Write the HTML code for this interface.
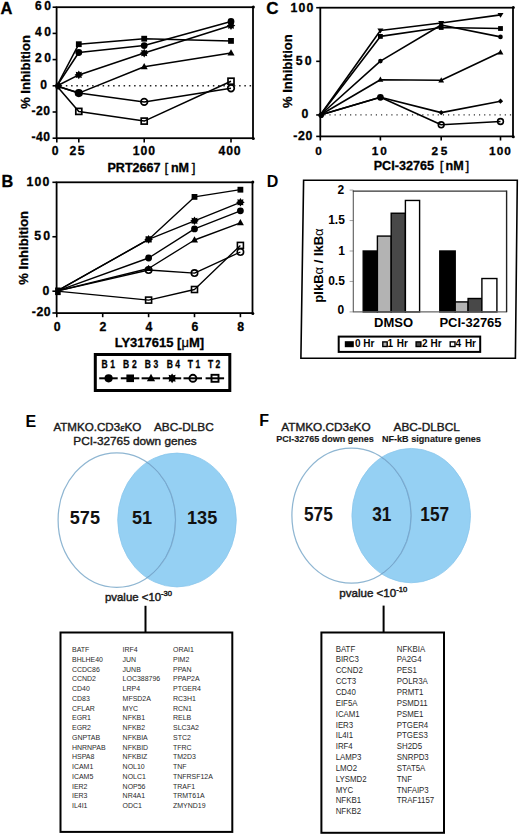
<!DOCTYPE html>
<html><head><meta charset="utf-8"><style>
html,body{margin:0;padding:0;background:#fff;}
svg{display:block;}
text{font-family:"Liberation Sans", sans-serif;}
.h text{stroke:#000;stroke-width:0.3px;}
</style></head><body>
<svg width="520" height="836" viewBox="0 0 520 836">
<rect width="520" height="836" fill="#fff"/>
<g class="h">
<text x="0.6" y="13.9" font-size="16.5" font-weight="bold" text-anchor="start" fill="#000" >A</text>
<rect x="56.6" y="7.2" width="196.4" height="131.0" fill="none" stroke="#000" stroke-width="1.8"/>
<line x1="52.6" y1="7.2" x2="56.6" y2="7.2" stroke="#000" stroke-width="1.6" />
<line x1="52.6" y1="33.4" x2="56.6" y2="33.4" stroke="#000" stroke-width="1.6" />
<line x1="52.6" y1="59.6" x2="56.6" y2="59.6" stroke="#000" stroke-width="1.6" />
<line x1="52.6" y1="85.8" x2="56.6" y2="85.8" stroke="#000" stroke-width="1.6" />
<line x1="52.6" y1="112.0" x2="56.6" y2="112.0" stroke="#000" stroke-width="1.6" />
<line x1="52.6" y1="138.2" x2="56.6" y2="138.2" stroke="#000" stroke-width="1.6" />
<circle cx="253.3" cy="7.0" r="1.6" fill="#000"/>
<line x1="56.8" y1="138.2" x2="56.8" y2="142.4" stroke="#000" stroke-width="1.6" />
<line x1="78.8" y1="138.2" x2="78.8" y2="142.4" stroke="#000" stroke-width="1.6" />
<line x1="144.2" y1="138.2" x2="144.2" y2="142.4" stroke="#000" stroke-width="1.6" />
<line x1="231.0" y1="138.2" x2="231.0" y2="142.4" stroke="#000" stroke-width="1.6" />
<circle cx="253.3" cy="138.5" r="1.5" fill="#000"/>
<line x1="57.6" y1="85.8" x2="253" y2="85.8" stroke="#222" stroke-width="1.5" stroke-dasharray="1.5 3.75" stroke-dashoffset="-3.0"/>
<text x="35.0" y="10.2" font-size="12.1" font-weight="bold" text-anchor="start" fill="#000" letter-spacing="2.6" >60</text>
<text x="35.0" y="36.3" font-size="12.1" font-weight="bold" text-anchor="start" fill="#000" letter-spacing="2.6" >40</text>
<text x="35.0" y="62.3" font-size="12.1" font-weight="bold" text-anchor="start" fill="#000" letter-spacing="2.6" >20</text>
<text x="40.2" y="88.8" font-size="12.1" font-weight="bold" text-anchor="start" fill="#000" >0</text>
<text x="31.6" y="115.0" font-size="12.1" font-weight="bold" text-anchor="start" fill="#000" letter-spacing="0.4" >-20</text>
<text x="31.6" y="141.2" font-size="12.1" font-weight="bold" text-anchor="start" fill="#000" letter-spacing="0.4" >-40</text>
<text x="51.8" y="155.2" font-size="12.2" font-weight="bold" text-anchor="start" fill="#000" >0</text>
<text x="69.4" y="155.2" font-size="12.2" font-weight="bold" text-anchor="start" fill="#000" letter-spacing="1.6" >25</text>
<text x="132.8" y="155.2" font-size="12.2" font-weight="bold" text-anchor="start" fill="#000" letter-spacing="0.9" >100</text>
<text x="218.5" y="155.2" font-size="12.2" font-weight="bold" text-anchor="start" fill="#000" letter-spacing="0.9" >400</text>
<text x="107.4" y="171.8" font-size="12.6" font-weight="bold">PRT2667<tspan x="164.6" font-weight="normal" font-size="13.5">[</tspan><tspan x="170.9">nM</tspan><tspan x="191.8" font-weight="normal" font-size="13.5">]</tspan></text>
<text transform="translate(30.3,72) rotate(-90)" font-size="13" font-weight="bold" text-anchor="middle">% Inhibition</text>
<polyline points="56.8,86 78.8,52.5 144.2,45.6 231.0,21.4" fill="none" stroke="#000" stroke-width="1.55" stroke-linejoin="round"/>
<polyline points="56.8,86 78.8,44.2 144.2,38.7 231.0,40.9" fill="none" stroke="#000" stroke-width="1.55" stroke-linejoin="round"/>
<polyline points="56.8,86 78.8,93.1 144.2,66.7 231.0,53.1" fill="none" stroke="#000" stroke-width="1.55" stroke-linejoin="round"/>
<polyline points="56.8,86 78.8,74.9 144.2,53.1 231.0,25.6" fill="none" stroke="#000" stroke-width="1.55" stroke-linejoin="round"/>
<polyline points="56.8,86 78.8,93.1 144.2,101.9 231.0,88.3" fill="none" stroke="#000" stroke-width="1.55" stroke-linejoin="round"/>
<polyline points="56.8,86 78.8,111.4 144.2,121.1 231.0,81.2" fill="none" stroke="#000" stroke-width="1.55" stroke-linejoin="round"/>
<circle cx="78.8" cy="52.5" r="3.4" fill="#000"/>
<circle cx="144.2" cy="45.6" r="3.4" fill="#000"/>
<circle cx="231.0" cy="21.4" r="3.4" fill="#000"/>
<rect x="75.89999999999999" y="41.300000000000004" width="5.8" height="5.8" fill="#000"/>
<rect x="141.29999999999998" y="35.800000000000004" width="5.8" height="5.8" fill="#000"/>
<rect x="228.1" y="38.0" width="5.8" height="5.8" fill="#000"/>
<polygon points="78.8,89.32 82.3,95.61999999999999 75.3,95.61999999999999" fill="#000"/>
<polygon points="144.2,62.92 147.7,69.22 140.7,69.22" fill="#000"/>
<polygon points="231.0,49.32 234.5,55.620000000000005 227.5,55.620000000000005" fill="#000"/>
<polygon points="78.80,70.60 79.89,72.28 81.84,71.86 81.42,73.81 83.10,74.90 81.42,75.99 81.84,77.94 79.89,77.52 78.80,79.20 77.71,77.52 75.76,77.94 76.18,75.99 74.50,74.90 76.18,73.81 75.76,71.86 77.71,72.28" fill="#000"/>
<polygon points="144.20,48.80 145.29,50.48 147.24,50.06 146.82,52.01 148.50,53.10 146.82,54.19 147.24,56.14 145.29,55.72 144.20,57.40 143.11,55.72 141.16,56.14 141.58,54.19 139.90,53.10 141.58,52.01 141.16,50.06 143.11,50.48" fill="#000"/>
<polygon points="231.00,21.30 232.09,22.98 234.04,22.56 233.62,24.51 235.30,25.60 233.62,26.69 234.04,28.64 232.09,28.22 231.00,29.90 229.91,28.22 227.96,28.64 228.38,26.69 226.70,25.60 228.38,24.51 227.96,22.56 229.91,22.98" fill="#000"/>
<circle cx="78.8" cy="93.1" r="4.1" fill="#000"/>
<circle cx="144.2" cy="101.9" r="3.3" fill="none" stroke="#000" stroke-width="1.7"/>
<circle cx="231.0" cy="88.3" r="3.3" fill="none" stroke="#000" stroke-width="1.7"/>
<rect x="75.8" y="108.4" width="6.0" height="6.0" fill="none" stroke="#000" stroke-width="1.7"/>
<rect x="141.2" y="118.1" width="6.0" height="6.0" fill="none" stroke="#000" stroke-width="1.7"/>
<rect x="228.0" y="78.2" width="6.0" height="6.0" fill="none" stroke="#000" stroke-width="1.7"/>
<ellipse cx="58.2" cy="85.9" rx="3.0" ry="3.5" fill="#000"/>
<text x="1.4" y="186.9" font-size="16.3" font-weight="bold" text-anchor="start" fill="#000" >B</text>
<rect x="56.6" y="182.3" width="195.9" height="130.8" fill="none" stroke="#000" stroke-width="1.8"/>
<circle cx="252.8" cy="182.10000000000002" r="1.5" fill="#000"/>
<line x1="52.4" y1="182.3" x2="56.6" y2="182.3" stroke="#000" stroke-width="1.6" />
<line x1="52.4" y1="236.75" x2="56.6" y2="236.75" stroke="#000" stroke-width="1.6" />
<line x1="52.4" y1="291.2" x2="56.6" y2="291.2" stroke="#000" stroke-width="1.6" />
<line x1="52.4" y1="312.98" x2="56.6" y2="312.98" stroke="#000" stroke-width="1.6" />
<line x1="56.8" y1="313.1" x2="56.8" y2="317.2" stroke="#000" stroke-width="1.6" />
<line x1="102.7" y1="313.1" x2="102.7" y2="317.2" stroke="#000" stroke-width="1.6" />
<line x1="148.6" y1="313.1" x2="148.6" y2="317.2" stroke="#000" stroke-width="1.6" />
<line x1="194.5" y1="313.1" x2="194.5" y2="317.2" stroke="#000" stroke-width="1.6" />
<line x1="240.4" y1="313.1" x2="240.4" y2="317.2" stroke="#000" stroke-width="1.6" />
<circle cx="252.8" cy="313.40000000000003" r="1.5" fill="#000"/>
<text x="26.6" y="185.5" font-size="12.3" font-weight="bold" text-anchor="start" fill="#000" letter-spacing="1.1" >100</text>
<text x="34.3" y="239.8" font-size="12.3" font-weight="bold" text-anchor="start" fill="#000" letter-spacing="2.2" >50</text>
<text x="42.5" y="294.5" font-size="12.3" font-weight="bold" text-anchor="start" fill="#000" >0</text>
<text x="31.8" y="316.2" font-size="12.3" font-weight="bold" text-anchor="start" fill="#000" letter-spacing="0.5" >-20</text>
<text x="57.099999999999994" y="330.8" font-size="12.3" font-weight="bold" text-anchor="middle" fill="#000" >0</text>
<text x="103.0" y="330.8" font-size="12.3" font-weight="bold" text-anchor="middle" fill="#000" >2</text>
<text x="148.9" y="330.8" font-size="12.3" font-weight="bold" text-anchor="middle" fill="#000" >4</text>
<text x="194.8" y="330.8" font-size="12.3" font-weight="bold" text-anchor="middle" fill="#000" >6</text>
<text x="240.70000000000002" y="330.8" font-size="12.3" font-weight="bold" text-anchor="middle" fill="#000" >8</text>
<text x="159.4" y="347.1" font-size="13.0" font-weight="bold" text-anchor="middle" fill="#000" >LY317615 [<tspan font-weight="normal">μ</tspan>M]</text>
<text transform="translate(27.7,247.8) rotate(-90)" font-size="13" font-weight="bold" text-anchor="middle">% Inhibition</text>
<polyline points="56.8,291.2 148.6,258 194.5,228.9 240.4,210.8" fill="none" stroke="#000" stroke-width="1.35" stroke-linejoin="round"/>
<polyline points="56.8,291.2 148.6,239.4 194.5,196.9 240.4,189.7" fill="none" stroke="#000" stroke-width="1.35" stroke-linejoin="round"/>
<polyline points="56.8,291.2 148.6,268.5 194.5,240 240.4,222.8" fill="none" stroke="#000" stroke-width="1.35" stroke-linejoin="round"/>
<polyline points="56.8,291.2 148.6,239.4 194.5,220.8 240.4,202.3" fill="none" stroke="#000" stroke-width="1.35" stroke-linejoin="round"/>
<polyline points="56.8,291.2 148.6,270 194.5,273.1 240.4,252" fill="none" stroke="#000" stroke-width="1.35" stroke-linejoin="round"/>
<polyline points="56.8,291.2 148.6,300.1 194.5,289.5 240.4,245.4" fill="none" stroke="#000" stroke-width="1.35" stroke-linejoin="round"/>
<circle cx="148.6" cy="258" r="3.4" fill="#000"/>
<circle cx="194.5" cy="228.9" r="3.4" fill="#000"/>
<circle cx="240.4" cy="210.8" r="3.4" fill="#000"/>
<rect x="145.7" y="236.5" width="5.8" height="5.8" fill="#000"/>
<rect x="191.6" y="194.0" width="5.8" height="5.8" fill="#000"/>
<rect x="237.5" y="186.79999999999998" width="5.8" height="5.8" fill="#000"/>
<polygon points="148.6,264.72 152.1,271.02 145.1,271.02" fill="#000"/>
<polygon points="194.5,236.22 198.0,242.52 191.0,242.52" fill="#000"/>
<polygon points="240.4,219.02 243.9,225.32000000000002 236.9,225.32000000000002" fill="#000"/>
<polygon points="148.60,235.10 149.69,236.78 151.64,236.36 151.22,238.31 152.90,239.40 151.22,240.49 151.64,242.44 149.69,242.02 148.60,243.70 147.51,242.02 145.56,242.44 145.98,240.49 144.30,239.40 145.98,238.31 145.56,236.36 147.51,236.78" fill="#000"/>
<polygon points="194.50,216.50 195.59,218.18 197.54,217.76 197.12,219.71 198.80,220.80 197.12,221.89 197.54,223.84 195.59,223.42 194.50,225.10 193.41,223.42 191.46,223.84 191.88,221.89 190.20,220.80 191.88,219.71 191.46,217.76 193.41,218.18" fill="#000"/>
<polygon points="240.40,198.00 241.49,199.68 243.44,199.26 243.02,201.21 244.70,202.30 243.02,203.39 243.44,205.34 241.49,204.92 240.40,206.60 239.31,204.92 237.36,205.34 237.78,203.39 236.10,202.30 237.78,201.21 237.36,199.26 239.31,199.68" fill="#000"/>
<circle cx="148.6" cy="270" r="3.2" fill="none" stroke="#000" stroke-width="1.6"/>
<circle cx="194.5" cy="273.1" r="3.2" fill="none" stroke="#000" stroke-width="1.6"/>
<circle cx="240.4" cy="252" r="3.2" fill="none" stroke="#000" stroke-width="1.6"/>
<rect x="145.6" y="297.1" width="6.0" height="6.0" fill="none" stroke="#000" stroke-width="1.6"/>
<rect x="191.5" y="286.5" width="6.0" height="6.0" fill="none" stroke="#000" stroke-width="1.6"/>
<rect x="237.4" y="242.4" width="6.0" height="6.0" fill="none" stroke="#000" stroke-width="1.6"/>
<rect x="55.1" y="287.5" width="5.6" height="7.6" fill="#000"/>
<rect x="95.3" y="354.5" width="134.5" height="36" fill="none" stroke="#000" stroke-width="3"/>
<text x="0" y="0" transform="translate(101.4,367.8) scale(0.82,1)" font-size="10.4" font-weight="bold">B<tspan x="10.85">1</tspan></text>
<line x1="99.2" y1="378.3" x2="117.7" y2="378.3" stroke="#000" stroke-width="2.0" />
<circle cx="108.6" cy="378.3" r="4.1" fill="#000"/>
<text x="0" y="0" transform="translate(123.1,367.8) scale(0.82,1)" font-size="10.4" font-weight="bold">B<tspan x="10.73">2</tspan></text>
<line x1="120.8" y1="378.3" x2="139.3" y2="378.3" stroke="#000" stroke-width="2.0" />
<rect x="126.39999999999999" y="374.5" width="7.6" height="7.6" fill="#000"/>
<text x="0" y="0" transform="translate(144.7,367.8) scale(0.82,1)" font-size="10.4" font-weight="bold">B<tspan x="10.73">3</tspan></text>
<line x1="141.6" y1="378.3" x2="160.1" y2="378.3" stroke="#000" stroke-width="2.0" />
<polygon points="151.0,373.872 155.1,381.252 146.9,381.252" fill="#000"/>
<text x="0" y="0" transform="translate(166.7,367.8) scale(0.82,1)" font-size="10.4" font-weight="bold">B<tspan x="10.37">4</tspan></text>
<line x1="162.7" y1="378.3" x2="181.2" y2="378.3" stroke="#000" stroke-width="2.0" />
<polygon points="172.10,373.40 173.34,375.31 175.56,374.84 175.09,377.06 177.00,378.30 175.09,379.54 175.56,381.76 173.34,381.29 172.10,383.20 170.86,381.29 168.64,381.76 169.11,379.54 167.20,378.30 169.11,377.06 168.64,374.84 170.86,375.31" fill="#000"/>
<text x="0" y="0" transform="translate(187.8,367.8) scale(0.82,1)" font-size="10.4" font-weight="bold">T<tspan x="9.51">1</tspan></text>
<line x1="183.5" y1="378.3" x2="202.0" y2="378.3" stroke="#000" stroke-width="2.0" />
<circle cx="192.9" cy="378.3" r="3.5" fill="none" stroke="#000" stroke-width="1.9"/>
<text x="0" y="0" transform="translate(207.9,367.8) scale(0.82,1)" font-size="10.4" font-weight="bold">T<tspan x="9.39">2</tspan></text>
<line x1="205.6" y1="378.3" x2="224.1" y2="378.3" stroke="#000" stroke-width="2.0" />
<rect x="211.5" y="374.8" width="7.0" height="7.0" fill="none" stroke="#000" stroke-width="1.9"/>
<text x="266.3" y="14.3" font-size="17" font-weight="bold" text-anchor="start" fill="#000" >C</text>
<rect x="320.3" y="7.7" width="192.7" height="128.70000000000002" fill="none" stroke="#000" stroke-width="1.8"/>
<circle cx="513.3" cy="7.5" r="1.5" fill="#000"/>
<line x1="316.2" y1="7.7" x2="320.3" y2="7.7" stroke="#000" stroke-width="1.6" />
<line x1="316.2" y1="61.33" x2="320.3" y2="61.33" stroke="#000" stroke-width="1.6" />
<line x1="316.2" y1="114.95" x2="320.3" y2="114.95" stroke="#000" stroke-width="1.6" />
<line x1="316.2" y1="136.4" x2="320.3" y2="136.4" stroke="#000" stroke-width="1.6" />
<line x1="320.3" y1="136.4" x2="320.3" y2="140.5" stroke="#000" stroke-width="1.6" />
<line x1="380.4" y1="136.4" x2="380.4" y2="140.5" stroke="#000" stroke-width="1.6" />
<line x1="441.2" y1="136.4" x2="441.2" y2="140.5" stroke="#000" stroke-width="1.6" />
<line x1="500.5" y1="136.4" x2="500.5" y2="140.5" stroke="#000" stroke-width="1.6" />
<circle cx="513.3" cy="136.70000000000002" r="1.5" fill="#000"/>
<line x1="321.3" y1="114.95" x2="513" y2="114.95" stroke="#333" stroke-width="1.2" stroke-dasharray="1.2 3.957" stroke-dashoffset="-2.95"/>
<text x="290.6" y="11.7" font-size="12.3" font-weight="bold" text-anchor="start" fill="#000" letter-spacing="1.1" >100</text>
<text x="295.8" y="64.7" font-size="12.3" font-weight="bold" text-anchor="start" fill="#000" letter-spacing="2.0" >50</text>
<text x="301.4" y="118.4" font-size="12.3" font-weight="bold" text-anchor="start" fill="#000" >0</text>
<text x="293.3" y="140.0" font-size="12.3" font-weight="bold" text-anchor="start" fill="#000" letter-spacing="0.6" >-20</text>
<text x="318.6" y="155.0" font-size="11.8" font-weight="bold" text-anchor="middle" fill="#000" >0</text>
<text x="371.8" y="155.0" font-size="11.8" font-weight="bold" text-anchor="start" fill="#000" letter-spacing="1.8" >10</text>
<text x="431.6" y="155.0" font-size="11.8" font-weight="bold" text-anchor="start" fill="#000" letter-spacing="2.6" >25</text>
<text x="500.5" y="155.0" font-size="11.8" font-weight="bold" text-anchor="middle" fill="#000" letter-spacing="1.1" >100</text>
<text x="373.7" y="170.4" font-size="12.6" font-weight="bold">PCI-32765<tspan x="439.7" font-weight="normal" font-size="13.5">[</tspan><tspan x="445.5">nM</tspan><tspan x="465.6" font-weight="normal" font-size="13.5">]</tspan></text>
<text transform="translate(292.4,71.2) rotate(-90)" font-size="13" font-weight="bold" text-anchor="middle">% Inhibition</text>
<polyline points="320.3,115 380.4,30.5 441.2,23 500.5,14.9" fill="none" stroke="#000" stroke-width="1.6" stroke-linejoin="round"/>
<polyline points="320.3,115 380.4,36.4 441.2,27.5 500.5,28.5" fill="none" stroke="#000" stroke-width="1.6" stroke-linejoin="round"/>
<polyline points="320.3,115 380.4,61.1 441.2,25 500.5,36.9" fill="none" stroke="#000" stroke-width="1.6" stroke-linejoin="round"/>
<polyline points="320.3,115 380.4,79.7 441.2,80.3 500.5,52.3" fill="none" stroke="#000" stroke-width="1.6" stroke-linejoin="round"/>
<polyline points="320.3,115 380.4,97.3 441.2,112.6 500.5,101.2" fill="none" stroke="#000" stroke-width="1.6" stroke-linejoin="round"/>
<polyline points="320.3,115 380.4,97.3 441.2,124.8 500.5,121.5" fill="none" stroke="#000" stroke-width="1.6" stroke-linejoin="round"/>
<polygon points="377.4,28.58 383.4,28.58 380.4,33.38" fill="#000"/>
<polygon points="438.2,21.08 444.2,21.08 441.2,25.88" fill="#000"/>
<polygon points="497.5,12.98 503.5,12.98 500.5,17.78" fill="#000"/>
<rect x="378.0" y="34.0" width="4.8" height="4.8" fill="#000"/>
<rect x="438.8" y="25.1" width="4.8" height="4.8" fill="#000"/>
<rect x="498.1" y="26.1" width="4.8" height="4.8" fill="#000"/>
<circle cx="380.4" cy="61.1" r="2.3" fill="#000"/>
<circle cx="441.2" cy="25" r="2.3" fill="#000"/>
<circle cx="500.5" cy="36.9" r="2.3" fill="#000"/>
<polygon points="380.4,76.568 383.29999999999995,81.788 377.5,81.788" fill="#000"/>
<polygon points="441.2,77.16799999999999 444.09999999999997,82.38799999999999 438.3,82.38799999999999" fill="#000"/>
<polygon points="500.5,49.168 503.4,54.388 497.6,54.388" fill="#000"/>
<polygon points="380.4,94.7 383.0,97.3 380.4,99.89999999999999 377.79999999999995,97.3" fill="#000"/>
<polygon points="441.2,110.0 443.8,112.6 441.2,115.19999999999999 438.59999999999997,112.6" fill="#000"/>
<polygon points="500.5,98.60000000000001 503.1,101.2 500.5,103.8 497.9,101.2" fill="#000"/>
<circle cx="441.2" cy="124.8" r="2.9" fill="none" stroke="#000" stroke-width="1.6"/>
<circle cx="500.5" cy="121.5" r="2.9" fill="none" stroke="#000" stroke-width="1.6"/>
<circle cx="380.4" cy="97.3" r="3.4" fill="#000"/>
<circle cx="321.2" cy="115.3" r="2.8" fill="#000"/>
</g>
<text x="266.8" y="187.2" font-size="16" font-weight="bold" text-anchor="start" fill="#000" >D</text>
<polygon points="303.6,180.3 517.3,180.3 515.4,358.2 300.9,358.2" fill="none" stroke="#000" stroke-width="1.6" stroke-linejoin="miter"/>
<line x1="349.6" y1="190.1" x2="353.3" y2="190.1" stroke="#999" stroke-width="0.9" />
<line x1="349.6" y1="220.55" x2="353.3" y2="220.55" stroke="#999" stroke-width="0.9" />
<line x1="349.6" y1="251.0" x2="353.3" y2="251.0" stroke="#999" stroke-width="0.9" />
<line x1="349.6" y1="281.45" x2="353.3" y2="281.45" stroke="#999" stroke-width="0.9" />
<line x1="349.6" y1="311.9" x2="353.3" y2="311.9" stroke="#999" stroke-width="0.9" />
<rect x="363.2" y="250.99999999999997" width="14.199999999999989" height="60.900000000000006" fill="#000" stroke="#000" stroke-width="1.4"/>
<rect x="377.4" y="236.07949999999997" width="13.800000000000011" height="75.82050000000001" fill="#b3b3b3" stroke="#000" stroke-width="1.4"/>
<rect x="391.2" y="213.24199999999996" width="14.199999999999989" height="98.65800000000002" fill="#484848" stroke="#000" stroke-width="1.4"/>
<rect x="405.4" y="200.45299999999997" width="14.200000000000045" height="111.447" fill="#fff" stroke="#000" stroke-width="1.4"/>
<rect x="439.8" y="250.99999999999997" width="15.399999999999977" height="60.900000000000006" fill="#000" stroke="#000" stroke-width="1.4"/>
<rect x="455.2" y="301.9124" width="12.900000000000034" height="9.987599999999986" fill="#b3b3b3" stroke="#000" stroke-width="1.4"/>
<rect x="468.1" y="298.50199999999995" width="13.799999999999955" height="13.398000000000025" fill="#484848" stroke="#000" stroke-width="1.4"/>
<rect x="481.9" y="278.5268" width="15.0" height="33.3732" fill="#fff" stroke="#000" stroke-width="1.4"/>
<line x1="353.3" y1="311.9" x2="506.6" y2="311.9" stroke="#666" stroke-width="1.1" />
<line x1="353.3" y1="190.6" x2="353.3" y2="312.2" stroke="#5a5a5a" stroke-width="1.1" />
<line x1="352.8" y1="191.1" x2="506.6" y2="191.1" stroke="#333" stroke-width="1.4" />
<line x1="506.6" y1="190.5" x2="506.6" y2="312.2" stroke="#222" stroke-width="1.4" />
<text x="337.5" y="194.0" font-size="12" font-weight="bold" text-anchor="start" fill="#000" >2</text>
<text x="328.2" y="224.0" font-size="12" font-weight="bold" text-anchor="start" fill="#000" >1.5</text>
<text x="338.2" y="254.6" font-size="12" font-weight="bold" text-anchor="start" fill="#000" >1</text>
<text x="328.2" y="285.3" font-size="12" font-weight="bold" text-anchor="start" fill="#000" >0.5</text>
<text x="337.5" y="314.4" font-size="12" font-weight="bold" text-anchor="start" fill="#000" >0</text>
<text x="393.6" y="326.8" font-size="13" font-weight="bold" text-anchor="middle" fill="#000" >DMSO</text>
<text x="470.5" y="326.8" font-size="13" font-weight="bold" text-anchor="middle" fill="#000" >PCI-32765</text>
<text transform="translate(323.0,265.5) rotate(-90)" font-size="13" font-weight="bold" text-anchor="middle">pIkB<tspan font-weight="normal">α</tspan> / IkB<tspan font-weight="normal">α</tspan></text>
<rect x="338.7" y="336.6" width="141.5" height="15.3" fill="none" stroke="#000" stroke-width="2"/>
<rect x="345.5" y="341.9" width="7.6" height="4.6" fill="#000" stroke="#000" stroke-width="1.4"/>
<text transform="translate(355.0,347.4) scale(1.0,1)" font-size="10" font-weight="bold">0<tspan x="8.20">Hr</tspan></text>
<rect x="382.8" y="341.9" width="4.4" height="4.6" fill="#b3b3b3" stroke="#000" stroke-width="1.4"/>
<text transform="translate(387.6,347.4) scale(1.0,1)" font-size="10" font-weight="bold">1<tspan x="9.20">Hr</tspan></text>
<rect x="416.1" y="341.9" width="4.8" height="4.6" fill="#484848" stroke="#000" stroke-width="1.4"/>
<text transform="translate(421.9,347.4) scale(1.0,1)" font-size="10" font-weight="bold">2<tspan x="8.70">Hr</tspan></text>
<rect x="450.2" y="341.9" width="4.8" height="4.6" fill="#fff" stroke="#000" stroke-width="1.4"/>
<text transform="translate(455.6,347.4) scale(1.0,1)" font-size="10" font-weight="bold">4<tspan x="9.30">Hr</tspan></text>
<text x="25.6" y="427.0" font-size="16" font-weight="bold" text-anchor="start" fill="#000" >E</text>
<text x="53.4" y="430.8" font-size="11.6" font-weight="normal" text-anchor="start" fill="#1a1a1a" stroke="#1a1a1a" stroke-width="0.4">ATMKO.CD3<tspan font-family="Liberation Serif" font-size="10.3">ε</tspan>KO</text>
<text x="154.0" y="430.8" font-size="11.8" font-weight="normal" text-anchor="start" fill="#1a1a1a" stroke="#1a1a1a" stroke-width="0.4">ABC-DLBC</text>
<text x="73.3" y="445.2" font-size="11.8" font-weight="normal" text-anchor="start" fill="#1a1a1a" stroke="#1a1a1a" stroke-width="0.4">PCI-32765 down genes</text>
<ellipse cx="177.0" cy="520" rx="59.300000000000004" ry="66.95" fill="#95d0f3" stroke="#8ac6ec" stroke-width="0.8"/>
<ellipse cx="116.8" cy="520" rx="58.7" ry="67.25" fill="none" stroke="#8fb6d2" stroke-width="1.25"/>
<clipPath id="cp116"><ellipse cx="177.0" cy="520" rx="59.6" ry="67.25"/></clipPath>
<ellipse cx="116.8" cy="520" rx="58.7" ry="67.25" fill="none" stroke="#72a9d3" stroke-width="1.0" clip-path="url(#cp116)"/>
<text x="69.8" y="524.4" font-size="18.1" font-weight="bold" text-anchor="start" fill="#111" >575</text>
<text x="131.9" y="524.4" font-size="18.1" font-weight="bold" text-anchor="start" fill="#111" >51</text>
<text x="187.0" y="524.4" font-size="18.1" font-weight="bold" text-anchor="start" fill="#111" >135</text>
<text x="105.0" y="601.0" font-size="11.4" font-weight="normal" text-anchor="start" fill="#1a1a1a" stroke="#1a1a1a" stroke-width="0.45">pvalue &lt;10<tspan font-size="7.6" dy="-5.2">-30</tspan></text>
<line x1="145.5" y1="605.8" x2="145.5" y2="632.5" stroke="#000" stroke-width="2" />
<rect x="60.5" y="632.5" width="171.8" height="199.4" fill="none" stroke="#000" stroke-width="2"/>
<g transform="scale(0.895,1)">
<text x="80.45" y="652.2" font-size="7.8" font-weight="normal" text-anchor="start" fill="#2a2a2a" >BATF</text>
<text x="80.45" y="661.95" font-size="7.8" font-weight="normal" text-anchor="start" fill="#2a2a2a" >BHLHE40</text>
<text x="80.45" y="671.7" font-size="7.8" font-weight="normal" text-anchor="start" fill="#2a2a2a" >CCDC86</text>
<text x="80.45" y="681.45" font-size="7.8" font-weight="normal" text-anchor="start" fill="#2a2a2a" >CCND2</text>
<text x="80.45" y="691.2" font-size="7.8" font-weight="normal" text-anchor="start" fill="#2a2a2a" >CD40</text>
<text x="80.45" y="700.95" font-size="7.8" font-weight="normal" text-anchor="start" fill="#2a2a2a" >CD83</text>
<text x="80.45" y="710.7" font-size="7.8" font-weight="normal" text-anchor="start" fill="#2a2a2a" >CFLAR</text>
<text x="80.45" y="720.45" font-size="7.8" font-weight="normal" text-anchor="start" fill="#2a2a2a" >EGR1</text>
<text x="80.45" y="730.2" font-size="7.8" font-weight="normal" text-anchor="start" fill="#2a2a2a" >EGR2</text>
<text x="80.45" y="739.95" font-size="7.8" font-weight="normal" text-anchor="start" fill="#2a2a2a" >GNPTAB</text>
<text x="80.45" y="749.7" font-size="7.8" font-weight="normal" text-anchor="start" fill="#2a2a2a" >HNRNPAB</text>
<text x="80.45" y="759.45" font-size="7.8" font-weight="normal" text-anchor="start" fill="#2a2a2a" >HSPA8</text>
<text x="80.45" y="769.2" font-size="7.8" font-weight="normal" text-anchor="start" fill="#2a2a2a" >ICAM1</text>
<text x="80.45" y="778.95" font-size="7.8" font-weight="normal" text-anchor="start" fill="#2a2a2a" >ICAM5</text>
<text x="80.45" y="788.7" font-size="7.8" font-weight="normal" text-anchor="start" fill="#2a2a2a" >IER2</text>
<text x="80.45" y="798.45" font-size="7.8" font-weight="normal" text-anchor="start" fill="#2a2a2a" >IER3</text>
<text x="80.45" y="808.2" font-size="7.8" font-weight="normal" text-anchor="start" fill="#2a2a2a" >IL4I1</text>
<text x="136.98" y="652.2" font-size="7.8" font-weight="normal" text-anchor="start" fill="#2a2a2a" >IRF4</text>
<text x="136.98" y="661.95" font-size="7.8" font-weight="normal" text-anchor="start" fill="#2a2a2a" >JUN</text>
<text x="136.98" y="671.7" font-size="7.8" font-weight="normal" text-anchor="start" fill="#2a2a2a" >JUNB</text>
<text x="136.98" y="681.45" font-size="7.8" font-weight="normal" text-anchor="start" fill="#2a2a2a" >LOC388796</text>
<text x="136.98" y="691.2" font-size="7.8" font-weight="normal" text-anchor="start" fill="#2a2a2a" >LRP4</text>
<text x="136.98" y="700.95" font-size="7.8" font-weight="normal" text-anchor="start" fill="#2a2a2a" >MFSD2A</text>
<text x="136.98" y="710.7" font-size="7.8" font-weight="normal" text-anchor="start" fill="#2a2a2a" >MYC</text>
<text x="136.98" y="720.45" font-size="7.8" font-weight="normal" text-anchor="start" fill="#2a2a2a" >NFKB1</text>
<text x="136.98" y="730.2" font-size="7.8" font-weight="normal" text-anchor="start" fill="#2a2a2a" >NFKB2</text>
<text x="136.98" y="739.95" font-size="7.8" font-weight="normal" text-anchor="start" fill="#2a2a2a" >NFKBIA</text>
<text x="136.98" y="749.7" font-size="7.8" font-weight="normal" text-anchor="start" fill="#2a2a2a" >NFKBID</text>
<text x="136.98" y="759.45" font-size="7.8" font-weight="normal" text-anchor="start" fill="#2a2a2a" >NFKBIZ</text>
<text x="136.98" y="769.2" font-size="7.8" font-weight="normal" text-anchor="start" fill="#2a2a2a" >NOL10</text>
<text x="136.98" y="778.95" font-size="7.8" font-weight="normal" text-anchor="start" fill="#2a2a2a" >NOLC1</text>
<text x="136.98" y="788.7" font-size="7.8" font-weight="normal" text-anchor="start" fill="#2a2a2a" >NOP56</text>
<text x="136.98" y="798.45" font-size="7.8" font-weight="normal" text-anchor="start" fill="#2a2a2a" >NR4A1</text>
<text x="136.98" y="808.2" font-size="7.8" font-weight="normal" text-anchor="start" fill="#2a2a2a" >ODC1</text>
<text x="193.3" y="652.2" font-size="7.8" font-weight="normal" text-anchor="start" fill="#2a2a2a" >ORAI1</text>
<text x="193.3" y="661.95" font-size="7.8" font-weight="normal" text-anchor="start" fill="#2a2a2a" >PIM2</text>
<text x="193.3" y="671.7" font-size="7.8" font-weight="normal" text-anchor="start" fill="#2a2a2a" >PPAN</text>
<text x="193.3" y="681.45" font-size="7.8" font-weight="normal" text-anchor="start" fill="#2a2a2a" >PPAP2A</text>
<text x="193.3" y="691.2" font-size="7.8" font-weight="normal" text-anchor="start" fill="#2a2a2a" >PTGER4</text>
<text x="193.3" y="700.95" font-size="7.8" font-weight="normal" text-anchor="start" fill="#2a2a2a" >RC3H1</text>
<text x="193.3" y="710.7" font-size="7.8" font-weight="normal" text-anchor="start" fill="#2a2a2a" >RCN1</text>
<text x="193.3" y="720.45" font-size="7.8" font-weight="normal" text-anchor="start" fill="#2a2a2a" >RELB</text>
<text x="193.3" y="730.2" font-size="7.8" font-weight="normal" text-anchor="start" fill="#2a2a2a" >SLC3A2</text>
<text x="193.3" y="739.95" font-size="7.8" font-weight="normal" text-anchor="start" fill="#2a2a2a" >STC2</text>
<text x="193.3" y="749.7" font-size="7.8" font-weight="normal" text-anchor="start" fill="#2a2a2a" >TFRC</text>
<text x="193.3" y="759.45" font-size="7.8" font-weight="normal" text-anchor="start" fill="#2a2a2a" >TM2D3</text>
<text x="193.3" y="769.2" font-size="7.8" font-weight="normal" text-anchor="start" fill="#2a2a2a" >TNF</text>
<text x="193.3" y="778.95" font-size="7.8" font-weight="normal" text-anchor="start" fill="#2a2a2a" >TNFRSF12A</text>
<text x="193.3" y="788.7" font-size="7.8" font-weight="normal" text-anchor="start" fill="#2a2a2a" >TRAF1</text>
<text x="193.3" y="798.45" font-size="7.8" font-weight="normal" text-anchor="start" fill="#2a2a2a" >TRMT61A</text>
<text x="193.3" y="808.2" font-size="7.8" font-weight="normal" text-anchor="start" fill="#2a2a2a" >ZMYND19</text>
</g>
<text x="259.2" y="426.0" font-size="16" font-weight="bold" text-anchor="start" fill="#000" >F</text>
<text x="281.2" y="430.5" font-size="11.8" font-weight="normal" text-anchor="start" fill="#1a1a1a" stroke="#1a1a1a" stroke-width="0.4">ATMKO.CD3<tspan font-family="Liberation Serif" font-size="10.5">ε</tspan>KO</text>
<text x="276.2" y="441.8" font-size="9.0" font-weight="bold" text-anchor="start" fill="#1a1a1a" stroke="#1a1a1a" stroke-width="0.15">PCI-32765 down genes</text>
<text x="393.6" y="430.5" font-size="11.8" font-weight="normal" text-anchor="start" fill="#1a1a1a" stroke="#1a1a1a" stroke-width="0.4">ABC-DLBCL</text>
<text x="381.9" y="441.8" font-size="9.1" font-weight="bold" text-anchor="start" fill="#1a1a1a" stroke="#1a1a1a" stroke-width="0.15">NF-kB signature genes</text>
<ellipse cx="411.2" cy="515.6" rx="59.300000000000004" ry="67.2" fill="#95d0f3" stroke="#8ac6ec" stroke-width="0.8"/>
<ellipse cx="351.5" cy="515.6" rx="59.6" ry="67.5" fill="none" stroke="#8fb6d2" stroke-width="1.25"/>
<clipPath id="cp351"><ellipse cx="411.2" cy="515.6" rx="59.6" ry="67.5"/></clipPath>
<ellipse cx="351.5" cy="515.6" rx="59.6" ry="67.5" fill="none" stroke="#72a9d3" stroke-width="1.0" clip-path="url(#cp351)"/>
<g transform="translate(304,520.5) scale(0.88,1)"><text x="0" y="0" font-size="19.6" font-weight="bold" fill="#111">575</text></g>
<g transform="translate(372.2,520.5) scale(0.88,1)"><text x="0" y="0" font-size="19.6" font-weight="bold" fill="#111">31</text></g>
<g transform="translate(420.3,520.5) scale(0.88,1)"><text x="0" y="0" font-size="19.6" font-weight="bold" fill="#111">157</text></g>
<text x="339.2" y="597.0" font-size="11.6" font-weight="normal" text-anchor="start" fill="#1a1a1a" stroke="#1a1a1a" stroke-width="0.45">pvalue &lt;10<tspan font-size="7.6" dy="-5.2">-10</tspan></text>
<line x1="383.6" y1="605.6" x2="383.6" y2="632.5" stroke="#000" stroke-width="2" />
<rect x="321.4" y="632.5" width="122.6" height="200.3" fill="none" stroke="#000" stroke-width="2"/>
<g transform="scale(0.89,1)">
<text x="377.19" y="651.6" font-size="8.85" font-weight="normal" text-anchor="start" fill="#2a2a2a" >BATF</text>
<text x="377.19" y="662.45" font-size="8.85" font-weight="normal" text-anchor="start" fill="#2a2a2a" >BIRC3</text>
<text x="377.19" y="673.3" font-size="8.85" font-weight="normal" text-anchor="start" fill="#2a2a2a" >CCND2</text>
<text x="377.19" y="684.15" font-size="8.85" font-weight="normal" text-anchor="start" fill="#2a2a2a" >CCT3</text>
<text x="377.19" y="695.0" font-size="8.85" font-weight="normal" text-anchor="start" fill="#2a2a2a" >CD40</text>
<text x="377.19" y="705.85" font-size="8.85" font-weight="normal" text-anchor="start" fill="#2a2a2a" >EIF5A</text>
<text x="377.19" y="716.7" font-size="8.85" font-weight="normal" text-anchor="start" fill="#2a2a2a" >ICAM1</text>
<text x="377.19" y="727.55" font-size="8.85" font-weight="normal" text-anchor="start" fill="#2a2a2a" >IER3</text>
<text x="377.19" y="738.4" font-size="8.85" font-weight="normal" text-anchor="start" fill="#2a2a2a" >IL4I1</text>
<text x="377.19" y="749.25" font-size="8.85" font-weight="normal" text-anchor="start" fill="#2a2a2a" >IRF4</text>
<text x="377.19" y="760.1" font-size="8.85" font-weight="normal" text-anchor="start" fill="#2a2a2a" >LAMP3</text>
<text x="377.19" y="770.95" font-size="8.85" font-weight="normal" text-anchor="start" fill="#2a2a2a" >LMO2</text>
<text x="377.19" y="781.8" font-size="8.85" font-weight="normal" text-anchor="start" fill="#2a2a2a" >LYSMD2</text>
<text x="377.19" y="792.65" font-size="8.85" font-weight="normal" text-anchor="start" fill="#2a2a2a" >MYC</text>
<text x="377.19" y="803.5" font-size="8.85" font-weight="normal" text-anchor="start" fill="#2a2a2a" >NFKB1</text>
<text x="377.19" y="814.35" font-size="8.85" font-weight="normal" text-anchor="start" fill="#2a2a2a" >NFKB2</text>
<text x="445.84" y="651.6" font-size="8.85" font-weight="normal" text-anchor="start" fill="#2a2a2a" >NFKBIA</text>
<text x="445.84" y="662.45" font-size="8.85" font-weight="normal" text-anchor="start" fill="#2a2a2a" >PA2G4</text>
<text x="445.84" y="673.3" font-size="8.85" font-weight="normal" text-anchor="start" fill="#2a2a2a" >PES1</text>
<text x="445.84" y="684.15" font-size="8.85" font-weight="normal" text-anchor="start" fill="#2a2a2a" >POLR3A</text>
<text x="445.84" y="695.0" font-size="8.85" font-weight="normal" text-anchor="start" fill="#2a2a2a" >PRMT1</text>
<text x="445.84" y="705.85" font-size="8.85" font-weight="normal" text-anchor="start" fill="#2a2a2a" >PSMD11</text>
<text x="445.84" y="716.7" font-size="8.85" font-weight="normal" text-anchor="start" fill="#2a2a2a" >PSME1</text>
<text x="445.84" y="727.55" font-size="8.85" font-weight="normal" text-anchor="start" fill="#2a2a2a" >PTGER4</text>
<text x="445.84" y="738.4" font-size="8.85" font-weight="normal" text-anchor="start" fill="#2a2a2a" >PTGES3</text>
<text x="445.84" y="749.25" font-size="8.85" font-weight="normal" text-anchor="start" fill="#2a2a2a" >SH2D5</text>
<text x="445.84" y="760.1" font-size="8.85" font-weight="normal" text-anchor="start" fill="#2a2a2a" >SNRPD3</text>
<text x="445.84" y="770.95" font-size="8.85" font-weight="normal" text-anchor="start" fill="#2a2a2a" >STAT5A</text>
<text x="445.84" y="781.8" font-size="8.85" font-weight="normal" text-anchor="start" fill="#2a2a2a" >TNF</text>
<text x="445.84" y="792.65" font-size="8.85" font-weight="normal" text-anchor="start" fill="#2a2a2a" >TNFAIP3</text>
<text x="445.84" y="803.5" font-size="8.85" font-weight="normal" text-anchor="start" fill="#2a2a2a" >TRAF1157</text>
</g>
</svg>
</body></html>
